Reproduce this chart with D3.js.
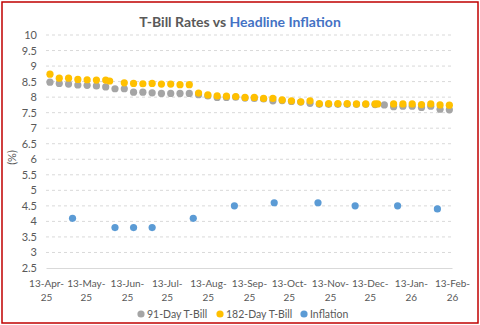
<!DOCTYPE html>
<html lang="en">

<head>
    <meta charset="UTF-8">
    <title>T-Bill Rates vs Headline Inflation</title>
    <script src="https://cdn.jsdelivr.net/npm/d3@7"></script>
    <style>
        body { margin: 0; background: #fff; }
        text { font-family: Lato, "Open Sans", sans-serif; fill: #595959; }
    </style>
</head>

<body>
</body>
<script>
    // weekly auction dates, 91-day T-bill cut-off yields (%)
    const tbill91Dates = ["2025-04-16", "2025-04-23", "2025-04-30", "2025-05-07", "2025-05-14", "2025-05-21", "2025-05-28",
        "2025-06-04", "2025-06-11", "2025-06-18", "2025-06-25", "2025-07-02", "2025-07-09", "2025-07-16", "2025-07-23",
        "2025-07-30", "2025-08-06", "2025-08-13", "2025-08-20", "2025-08-27", "2025-09-03", "2025-09-10", "2025-09-17",
        "2025-09-24", "2025-10-01", "2025-10-08", "2025-10-15", "2025-10-22", "2025-10-29", "2025-11-05", "2025-11-12",
        "2025-11-19", "2025-11-26", "2025-12-03", "2025-12-10", "2025-12-17", "2025-12-24", "2025-12-31", "2026-01-07",
        "2026-01-14", "2026-01-21", "2026-01-28", "2026-02-04", "2026-02-11"];
    const tbill91 = [8.48, 8.44, 8.42, 8.39, 8.38, 8.36, 8.33,
        8.27, 8.27, 8.16, 8.16, 8.14, 8.12, 8.12, 8.12,
        8.12, 8.08, 8.04, 7.99, 7.99, 8.00, 7.97, 7.96,
        7.94, 7.88, 7.89, 7.86, 7.84, 7.80, 7.77, 7.77,
        7.77, 7.77, 7.77, 7.77, 7.76, 7.75, 7.69, 7.71,
        7.71, 7.67, 7.71, 7.61, 7.59];

    // 182-day T-bill
    const tbill182Dates = ["2025-04-16", "2025-04-23", "2025-04-30", "2025-05-07", "2025-05-14", "2025-05-21", "2025-05-28",
        "2025-05-31", "2025-06-11", "2025-06-18", "2025-06-25", "2025-07-02", "2025-07-09", "2025-07-16", "2025-07-23",
        "2025-07-30", "2025-08-06", "2025-08-13", "2025-08-20", "2025-08-27", "2025-09-03", "2025-09-10", "2025-09-17",
        "2025-09-24", "2025-10-01", "2025-10-08", "2025-10-15", "2025-10-22", "2025-10-29", "2025-11-05", "2025-11-12",
        "2025-11-19", "2025-11-26", "2025-12-03", "2025-12-10", "2025-12-17", "2025-12-19", "2025-12-31", "2026-01-07",
        "2026-01-14", "2026-01-21", "2026-01-28", "2026-02-04", "2026-02-11"];
    const tbill182 = [8.74, 8.61, 8.61, 8.57, 8.56, 8.55, 8.55,
        8.52, 8.46, 8.44, 8.43, 8.44, 8.42, 8.42, 8.40,
        8.40, 8.13, 8.07, 8.04, 8.03, 8.02, 7.99, 7.99,
        7.96, 7.96, 7.91, 7.88, 7.85, 7.88, 7.79, 7.79,
        7.79, 7.79, 7.78, 7.78, 7.78, 7.78, 7.78, 7.78,
        7.78, 7.76, 7.78, 7.75, 7.74];

    // headline CPI inflation (%)
    const inflationDates = ["2025-05-03", "2025-06-04", "2025-06-18", "2025-07-02", "2025-08-02", "2025-09-02",
        "2025-10-02", "2025-11-04", "2025-12-02", "2026-01-03", "2026-02-02"];
    const inflation = [4.1, 3.8, 3.8, 3.8, 4.1, 4.5, 4.6, 4.6, 4.5, 4.5, 4.4];

    const xTickLabels = ["13-Apr-25", "13-May-25", "13-Jun-25", "13-Jul-25", "13-Aug-25", "13-Sep-25",
        "13-Oct-25", "13-Nov-25", "13-Dec-25", "13-Jan-26", "13-Feb-26"];
    const yTicks = [2.5, 3, 3.5, 4, 4.5, 5, 5.5, 6, 6.5, 7, 7.5, 8, 8.5, 9, 9.5, 10];

    const seriesNames = ["91-Day T-Bill", "182-Day T-Bill", "Inflation"];
    const seriesColors = ["#A5A5A5", "#FFC000", "#5B9BD5"];

    const width = 480, height = 325;
    const parseIso = d3.timeParse("%Y-%m-%d");
    const parseTick = d3.timeParse("%d-%b-%y");
    const tickDates = xTickLabels.map(parseTick);

    const x = d3.scaleTime()
        .domain([tickDates[0], tickDates[tickDates.length - 1]])
        .range([46, 452]);
    const y = d3.scaleLinear().domain([2.5, 10]).range([268, 35]);

    const svg = d3.select("body").append("svg")
        .attr("width", width)
        .attr("height", height);

    // red frame round the chart
    svg.append("rect")
        .attr("x", 2).attr("y", 2)
        .attr("width", width - 4).attr("height", height - 4)
        .attr("fill", "#fff")
        .attr("stroke", "#C00000")
        .attr("stroke-width", 1.5);

    // title, two colours
    const title = svg.append("text")
        .attr("x", 240).attr("y", 27)
        .attr("text-anchor", "middle")
        .style("font-size", "14px")
        .style("font-weight", "bold");
    title.append("tspan").text("T-Bill Rates vs ");
    title.append("tspan").style("fill", "#4472C4").text("Headline Inflation");

    // gridlines
    svg.append("g")
        .selectAll("line")
        .data(yTicks.filter(d => d > 2.5))
        .join("line")
        .attr("x1", x.range()[0]).attr("x2", x.range()[1])
        .attr("y1", d => y(d)).attr("y2", d => y(d))
        .attr("stroke", "#D9D9D9")
        .attr("stroke-dasharray", "3,3");

    // y axis (labels only)
    const yAxis = svg.append("g")
        .attr("transform", `translate(${x.range()[0]},0)`)
        .call(d3.axisLeft(y).tickValues(yTicks).tickFormat(d3.format("~g")).tickSize(0).tickPadding(9));
    yAxis.select(".domain").remove();
    yAxis.selectAll("text").style("font-size", "11px").style("fill", "#595959");

    // x axis with two-line labels
    const xAxis = svg.append("g")
        .attr("transform", `translate(0,${y(2.5)})`)
        .call(d3.axisBottom(x).tickValues(tickDates).tickSize(0).tickFormat(() => ""));
    xAxis.select(".domain").attr("stroke", "#D9D9D9");
    xAxis.selectAll(".tick").each(function (d, i) {
        const parts = xTickLabels[i].split("-");
        const t = d3.select(this).append("text")
            .attr("text-anchor", "middle")
            .style("font-size", "10px")
            .style("fill", "#595959");
        t.append("tspan").attr("x", 0).attr("y", 19).text(parts[0] + "-" + parts[1] + "-");
        t.append("tspan").attr("x", 0).attr("y", 33).text(parts[2]);
    });

    svg.append("text")
        .attr("transform", `translate(16,${(y(2.5) + y(10)) / 2 + 6}) rotate(-90)`)
        .attr("text-anchor", "middle")
        .style("font-size", "11px")
        .text("(%)");

    // points
    const series = [
        tbill91Dates.map((d, i) => [parseIso(d), tbill91[i]]),
        tbill182Dates.map((d, i) => [parseIso(d), tbill182[i]]),
        inflationDates.map((d, i) => [parseIso(d), inflation[i]])
    ];
    series.forEach((pts, s) => {
        svg.append("g")
            .selectAll("circle")
            .data(pts)
            .join("circle")
            .attr("cx", d => x(d[0]))
            .attr("cy", d => y(d[1]))
            .attr("r", 3.6)
            .attr("fill", seriesColors[s]);
    });

    // legend
    const legendX = [141, 220, 304];
    const legend = svg.append("g")
        .selectAll("g")
        .data(seriesNames)
        .join("g")
        .attr("transform", (d, i) => `translate(${legendX[i]},314)`);
    legend.append("circle").attr("r", 3.6).attr("fill", (d, i) => seriesColors[i]);
    legend.append("text")
        .attr("x", 6).attr("y", 4)
        .style("font-size", "10.5px")
        .text(d => d);
</script>

</html>
